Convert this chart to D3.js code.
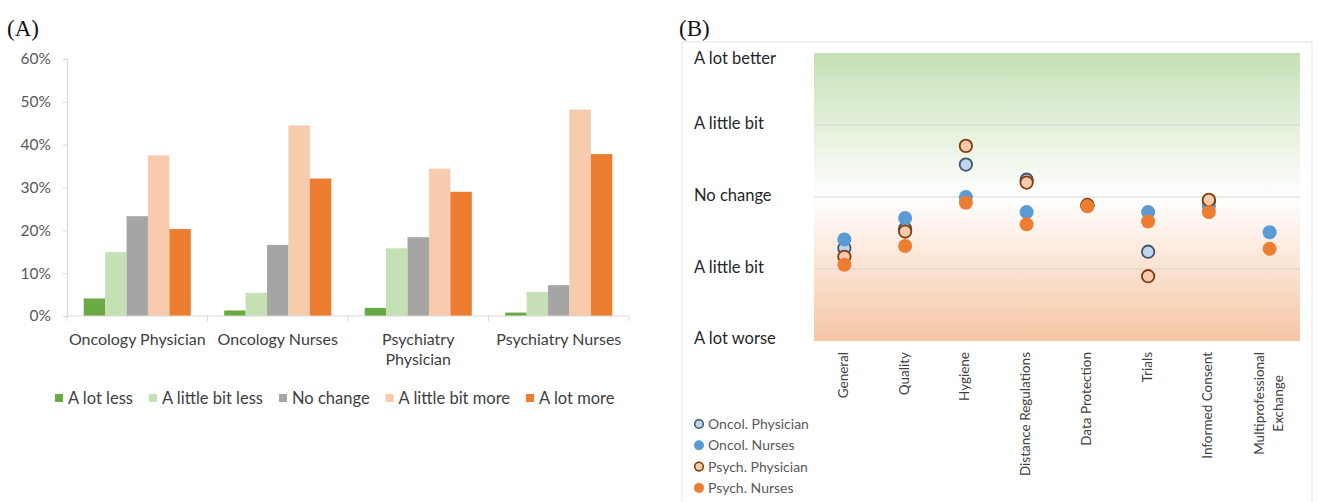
<!DOCTYPE html>
<html><head><meta charset="utf-8">
<script src="https://cdn.jsdelivr.net/npm/d3@7"></script>
<style>
body{margin:0;background:#fff;}
svg{display:block;}
text{font-family:Lato,"Open Sans",sans-serif;}
</style></head>
<body>
<svg id="c" width="1318" height="502"></svg>
<script>
// ---------- Panel A data ----------
const groupsA = ["Oncology Physician","Oncology Nurses","Psychiatry\nPhysician","Psychiatry Nurses"];
const seriesA = ["A lot less","A little bit less","No change","A little bit more","A lot more"];
const colorsA = ["#6aaa42","#c5e0b4","#a5a5a5","#f8cbad","#ed7d31"];
const aLotLess       = [0.041,0.013,0.019,0.008];
const aLittleBitLess = [0.149,0.054,0.158,0.056];
const noChange       = [0.233,0.166,0.184,0.072];
const aLittleBitMore = [0.375,0.445,0.344,0.482];
const aLotMore       = [0.203,0.321,0.290,0.378];
const ticksA = [0,0.1,0.2,0.3,0.4,0.5,0.6];

// ---------- Panel B data ----------
const catsB = ["General","Quality","Hygiene","Distance Regulations","Data Protection","Trials","Informed Consent","Multiprofessional\nExchange"];
const levelLabelsB = ["A lot worse","A little bit","No change","A little bit","A lot better"];
const levelValuesB = [-2,-1,0,1,2];
const oncolPhysician = [-0.71,-0.44,0.45,0.24,-0.12,-0.76,-0.06,null];
const oncolNurses    = [-0.59,-0.29,0.00,-0.21,-0.12,-0.21,-0.13,-0.49];
const psychPhysician = [-0.83,-0.48,0.71,0.20,-0.11,-1.10,-0.04,null];
const psychNurses    = [-0.94,-0.68,-0.08,-0.38,-0.13,-0.34,-0.21,-0.72];
const seriesB = [
  {name:"Oncol. Physician", values:oncolPhysician, fill:"#bdd7ee", stroke:"#44546a"},
  {name:"Oncol. Nurses",    values:oncolNurses,    fill:"#5b9bd5", stroke:null},
  {name:"Psych. Physician", values:psychPhysician, fill:"#f8cbad", stroke:"#843c0c"},
  {name:"Psych. Nurses",    values:psychNurses,    fill:"#ed7d31", stroke:null}
];

const svg = d3.select("#c");

// ================= Panel A =================
const A = svg.append("g");
A.append("text").attr("x",7).attr("y",36).style("font-family","'Liberation Serif','DejaVu Serif',serif")
  .style("font-size","23px").attr("fill","#111").text("(A)");

const valsA = [aLotLess,aLittleBitLess,noChange,aLittleBitMore,aLotMore];
const x0 = d3.scaleBand().domain(groupsA).range([67,629]).paddingInner(0).paddingOuter(0);
const x1 = d3.scaleBand().domain(seriesA).range([0,x0.bandwidth()]).paddingInner(0).paddingOuter(0.78);
const yA = d3.scaleLinear().domain([0,0.6]).range([316,59]);

// y axis
const yAxisA = A.append("g").attr("transform","translate(67,0)")
  .call(d3.axisLeft(yA).tickValues(ticksA).tickFormat(d3.format(".0%")).tickSize(4).tickPadding(12));
yAxisA.select(".domain").attr("stroke","#d9d9d9");
yAxisA.selectAll(".tick line").attr("stroke","#d9d9d9");
yAxisA.selectAll(".tick text").attr("fill","#595959").style("font-size","15.5px").style("font-family","Lato,sans-serif");

// bars
groupsA.forEach((g,gi)=>{
  seriesA.forEach((s,si)=>{
    const v = valsA[si][gi];
    A.append("rect").attr("x",x0(g)+x1(s)).attr("y",yA(v))
      .attr("width",x1.bandwidth()).attr("height",yA(0)-yA(v)).attr("fill",colorsA[si]);
  });
});

// x axis
const xAxisA = A.append("g").attr("transform","translate(0,316)");
xAxisA.append("line").attr("x1",67).attr("x2",629).attr("stroke","#d9d9d9");
groupsA.concat([null]).forEach((g,i)=>{
  const xx = g===null ? 629 : x0(g);
  xAxisA.append("line").attr("x1",xx).attr("x2",xx).attr("y1",0).attr("y2",5).attr("stroke","#d9d9d9");
});
groupsA.forEach(g=>{
  const lines = g.split("\n");
  const t = A.append("text").attr("text-anchor","middle").attr("fill","#404040").style("font-size","16px");
  lines.forEach((ln,i)=>{
    t.append("tspan").attr("x",x0(g)+x0.bandwidth()/2).attr("y",345+i*20).text(ln);
  });
});

// legend A
let lx = 55;
seriesA.forEach((s,i)=>{
  A.append("rect").attr("x",lx).attr("y",394).attr("width",8).attr("height",8).attr("fill",colorsA[i]);
  const t = A.append("text").attr("x",lx+13).attr("y",404).attr("fill","#404040").style("font-size","16.5px").text(s);
  lx += 13 + t.node().getComputedTextLength() + 16;
});

// ================= Panel B =================
const B = svg.append("g");
B.append("text").attr("x",679).attr("y",36).style("font-family","'Liberation Serif','DejaVu Serif',serif")
  .style("font-size","23px").attr("fill","#111").text("(B)");
// frame
B.append("rect").attr("x",682).attr("y",42).attr("width",630).attr("height",470)
  .attr("fill","none").attr("stroke","#e4e4e4");

const xB = d3.scaleBand().domain(catsB).range([814,1300]);
const yB = d3.scaleLinear().domain([-2,2]).range([341,53]);

const defs = svg.append("defs");
const grad = defs.append("linearGradient").attr("id","bg").attr("x1",0).attr("y1",0).attr("x2",0).attr("y2",1);
grad.append("stop").attr("offset","0%").attr("stop-color","#c6e0b4");
grad.append("stop").attr("offset","50%").attr("stop-color","#ffffff");
grad.append("stop").attr("offset","100%").attr("stop-color","#f6c6a4");
B.append("rect").attr("x",814).attr("y",yB(2)).attr("width",486).attr("height",yB(-2)-yB(2)).attr("fill","url(#bg)");

// gridlines
B.append("g").selectAll("line").data([-1,0,1]).join("line")
  .attr("x1",814).attr("x2",1300).attr("y1",d=>yB(d)).attr("y2",d=>yB(d))
  .attr("stroke","#d3d3d3").attr("stroke-width",1.2);

// y labels
levelValuesB.forEach((v,i)=>{
  const nudge = v===2 ? 5 : (v===-2 ? -3 : -2);
  B.append("text").attr("x",694).attr("y",yB(v)+nudge).attr("dy","0.35em")
    .attr("fill","#262626").style("font-size","16.5px").text(levelLabelsB[i]);
});

// x labels rotated
catsB.forEach(c=>{
  const lines = c.split("\n");
  const cx = xB(c)+xB.bandwidth()/2;
  const lh = 19;
  const g = B.append("g");
  const texts = lines.map((ln,i)=>{
    return g.append("text").attr("fill","#404040").style("font-size","13.5px")
      .attr("dominant-baseline","middle").text(ln);
  });
  const widths = texts.map(t=>t.node().getComputedTextLength());
  const maxW = d3.max(widths);
  const top = 352;
  texts.forEach((t,i)=>{
    const off = (i-(lines.length-1)/2)*lh;
    if(lines.length===1){
      t.attr("text-anchor","end").attr("transform",`translate(${cx},${top}) rotate(-90)`);
    } else {
      t.attr("text-anchor","middle").attr("transform",`translate(${cx+off},${top+maxW/2}) rotate(-90)`);
    }
  });
});

// points
seriesB.forEach(s=>{
  B.append("g").selectAll("circle").data(catsB.map((c,i)=>({c,v:s.values[i]})).filter(d=>d.v!==null))
    .join("circle")
    .attr("cx",d=>xB(d.c)+xB.bandwidth()/2).attr("cy",d=>yB(d.v))
    .attr("r",s.stroke?6.2:7).attr("fill",s.fill)
    .attr("stroke",s.stroke||"none").attr("stroke-width",s.stroke?1.8:0);
});

// legend B
seriesB.forEach((s,i)=>{
  const yy = 424 + i*21.3;
  B.append("circle").attr("cx",699).attr("cy",yy).attr("r",s.stroke?4.3:5)
    .attr("fill",s.fill).attr("stroke",s.stroke||"none").attr("stroke-width",s.stroke?1.6:0);
  B.append("text").attr("x",708).attr("y",yy).attr("dy","0.35em").attr("fill","#595959")
    .style("font-size","14px").text(s.name);
});
</script>
</body></html>
